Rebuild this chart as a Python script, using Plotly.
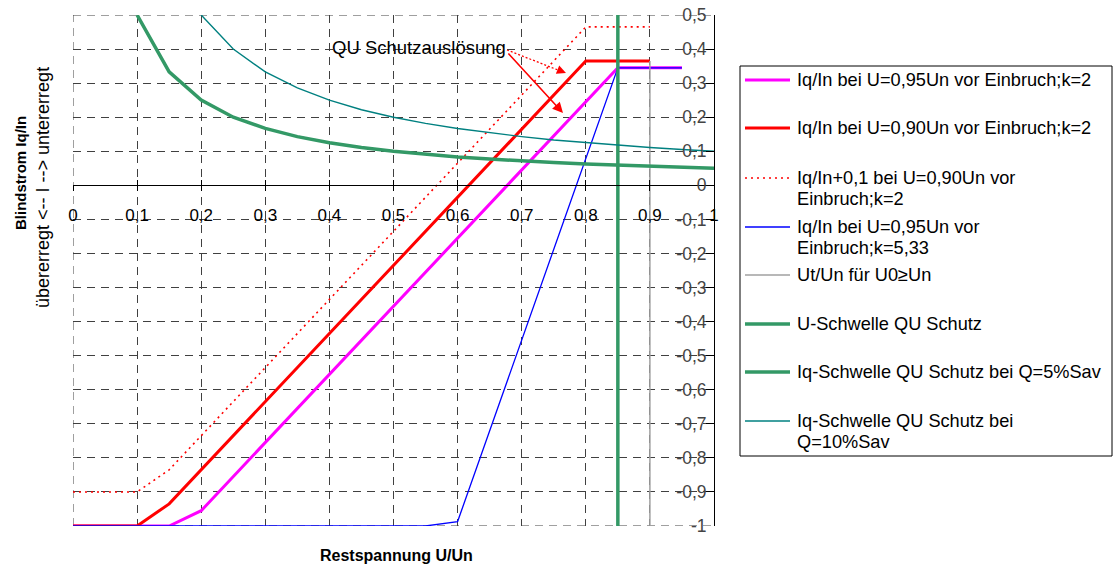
import plotly.graph_objects as go

# ---------------- data ----------------
u_095 = [0.00, 0.05, 0.10, 0.15, 0.20, 0.25, 0.30, 0.35, 0.40, 0.45, 0.50,
         0.55, 0.60, 0.65, 0.70, 0.75, 0.80, 0.85, 0.90, 0.95]
iq_095_k2 = [-1.0, -1.0, -1.0, -1.0, -0.955, -0.855, -0.755, -0.655, -0.555, -0.455,
             -0.355, -0.255, -0.155, -0.055, 0.045, 0.145, 0.245, 0.345, 0.345, 0.345]

u_090 = [0.00, 0.05, 0.10, 0.15, 0.20, 0.25, 0.30, 0.35, 0.40, 0.45, 0.50,
         0.55, 0.60, 0.65, 0.70, 0.75, 0.80, 0.85, 0.90]
iq_090_k2 = [-1.0, -1.0, -1.0, -0.935, -0.835, -0.735, -0.635, -0.535, -0.435, -0.335,
             -0.235, -0.135, -0.035, 0.065, 0.165, 0.265, 0.365, 0.365, 0.365]
iq_090_k2_plus = [-0.9, -0.9, -0.9, -0.835, -0.735, -0.635, -0.535, -0.435, -0.335, -0.235,
                  -0.135, -0.035, 0.065, 0.165, 0.265, 0.365, 0.465, 0.465, 0.465]

iq_095_k533 = [-1.0, -1.0, -1.0, -1.0, -1.0, -1.0, -1.0, -1.0, -1.0, -1.0, -1.0,
               -1.0, -0.987, -0.721, -0.455, -0.189, 0.078, 0.345, 0.345, 0.345]

ut_u = [0.9, 0.9]
ut_iq = [-1.0, 0.365]

uschw_u = [0.85, 0.85]
uschw_iq = [-1.0, 0.5]

u_q5 = [0.10, 0.15, 0.20, 0.25, 0.30, 0.35, 0.40, 0.45, 0.50, 0.55,
        0.60, 0.65, 0.70, 0.75, 0.80, 0.85, 0.90, 0.95, 1.00]
iq_q5 = [0.500, 0.333, 0.250, 0.200, 0.167, 0.143, 0.125, 0.111, 0.100, 0.091,
         0.083, 0.077, 0.071, 0.067, 0.0625, 0.059, 0.056, 0.053, 0.050]

u_q10 = [0.20, 0.25, 0.30, 0.35, 0.40, 0.45, 0.50, 0.55, 0.60, 0.65,
         0.70, 0.75, 0.80, 0.85, 0.90, 0.95, 1.00]
iq_q10 = [0.500, 0.400, 0.333, 0.286, 0.250, 0.222, 0.200, 0.182, 0.167, 0.154,
          0.143, 0.133, 0.125, 0.118, 0.111, 0.105, 0.100]

x_tickvals = [0, 0.1, 0.2, 0.3, 0.4, 0.5, 0.6, 0.7, 0.8, 0.9, 1.0]
x_ticktext = ["0", "0,1", "0,2", "0,3", "0,4", "0,5", "0,6", "0,7", "0,8", "0,9", "1"]
y_tickvals = [0.5, 0.4, 0.3, 0.2, 0.1, 0, -0.1, -0.2, -0.3, -0.4, -0.5,
              -0.6, -0.7, -0.8, -0.9, -1.0]
y_ticktext = ["0,5", "0,4", "0,3", "0,2", "0,1", "0", "-0,1", "-0,2", "-0,3", "-0,4", "-0,5",
              "-0,6", "-0,7", "-0,8", "-0,9", "-1"]

series_names = [
    "Iq/In bei U=0,95Un vor Einbruch;k=2",
    "Iq/In bei U=0,90Un vor Einbruch;k=2",
    "Iq/In+0,1 bei U=0,90Un vor|Einbruch;k=2",
    "Iq/In bei U=0,95Un vor|Einbruch;k=5,33",
    "Ut/Un für U0≥Un",
    "U-Schwelle QU Schutz",
    "Iq-Schwelle QU Schutz bei Q=5%Sav",
    "Iq-Schwelle QU Schutz bei|Q=10%Sav",
]

# ---------------- styles ----------------
FONT = "Liberation Sans, Arial, sans-serif"
MAGENTA = "#FF00FF"
RED = "#FF0000"
BLUE = "#0000FF"
GRAY = "#A0A0A0"
GREEN = "#339966"
TEAL = "#008080"

styles = [
    dict(color=MAGENTA, width=3),
    dict(color=RED, width=3),
    dict(color=RED, width=1.6, dash="2px,4px"),
    dict(color=BLUE, width=1.3),
    dict(color=GRAY, width=1.5),
    dict(color=GREEN, width=3.5),
    dict(color=GREEN, width=3.5),
    dict(color=TEAL, width=1.4),
]
data = [
    (u_095, iq_095_k2),
    (u_090, iq_090_k2),
    (u_090, iq_090_k2_plus),
    (u_095, iq_095_k533),
    (ut_u, ut_iq),
    (uschw_u, uschw_iq),
    (u_q5, iq_q5),
    (u_q10, iq_q10),
]

# The page body margin is removed via post_script, so the figure fills the window.
W, H = 1114, 568
L, R, T, B = 73, 714, 15, 526


def pxx(px):  # window pixel x -> paper x
    return (px - L) / (R - L)


def pxy(py):  # window pixel y -> paper y
    return (B - py) / (B - T)


fig = go.Figure()
for (xs, ys), st, nm in zip(data, styles, series_names):
    fig.add_trace(go.Scatter(x=xs, y=ys, mode="lines", line=st,
                             name=nm.replace("|", " "), cliponaxis=False,
                             hoverinfo="skip", showlegend=False))

# helper trace for the upper half of the crossing x ticks
fig.add_trace(go.Scatter(x=[0, 1], y=[-1, -1], xaxis="x2", mode="lines",
                         opacity=0, showlegend=False, hoverinfo="skip"))

GRIDC = "#404040"
GRIDDASH = "8px,6px"
grid = dict(showgrid=True, gridcolor=GRIDC, gridwidth=1, griddash=GRIDDASH)

fig.update_layout(
    template="none",
    width=W, height=H,
    margin=dict(l=L, r=W - R, t=T, b=H - B, pad=0, autoexpand=False),
    paper_bgcolor="white", plot_bgcolor="white",
    font=dict(family=FONT, color="black"),
    showlegend=False,
    xaxis=dict(range=[0, 1], tickvals=x_tickvals, ticktext=x_ticktext,
               zeroline=False, showline=True, linecolor="black", linewidth=1,
               anchor="free", position=2 / 3, automargin=False,
               ticks="outside", ticklen=5, tickcolor="black", tickwidth=1,
               tickfont=dict(size=17, family=FONT), ticklabelstandoff=9,
               ticklabeloverflow="allow", fixedrange=True, **grid),
    xaxis2=dict(range=[0, 1], tickvals=x_tickvals, overlaying="x",
                anchor="free", position=2 / 3, ticks="inside", ticklen=5,
                tickcolor="black", tickwidth=1, showticklabels=False, automargin=False,
                showgrid=False, showline=False, zeroline=False, fixedrange=True),
    yaxis=dict(range=[-1, 0.5], tickvals=y_tickvals, ticktext=y_ticktext,
               side="right", zeroline=False, showline=True, linecolor="black",
               linewidth=1, ticks="inside", ticklen=8, tickcolor="black",
               ticklabelposition="inside", ticklabeloverflow="allow",
               tickfont=dict(size=17.5, family=FONT), automargin=False,
               fixedrange=True, **grid),
)

shapes = []
annotations = []

# boundary grid lines (left, top, bottom) that plotly skips at range edges
gl = dict(color=GRIDC, width=1, dash=GRIDDASH)
shapes.append(dict(type="line", xref="x", yref="y", x0=0, x1=0, y0=-1, y1=0.5,
                   line=gl, layer="below"))
shapes.append(dict(type="line", xref="x", yref="y", x0=0, x1=1, y0=0.5, y1=0.5,
                   line=gl, layer="below"))
shapes.append(dict(type="line", xref="x", yref="y", x0=0, x1=1, y0=-1, y1=-1,
                   line=gl, layer="below"))

# legend box
shapes.append(dict(type="rect", xref="paper", yref="paper",
                   x0=pxx(740), x1=pxx(1112), y0=pxy(456), y1=pxy(66),
                   line=dict(color="black", width=1), fillcolor="white", layer="above"))

LEG_FONT = 18.2
legend_rows = [80, 128, 178, 227, 275, 324, 372, 421]
for nm, st, yrow in zip(series_names, styles, legend_rows):
    shapes.append(dict(type="line", xref="paper", yref="paper",
                       x0=pxx(745), x1=pxx(790), y0=pxy(yrow), y1=pxy(yrow),
                       line=st, layer="above"))
    for i, line_txt in enumerate(nm.split("|")):
        annotations.append(dict(text=line_txt, xref="paper", yref="paper",
                                x=pxx(795), y=pxy(yrow + 21 * i),
                                xanchor="left", yanchor="middle", showarrow=False,
                                font=dict(size=LEG_FONT, family=FONT, color="black")))

# axis titles
annotations.append(dict(text="<b>Restspannung U/Un</b>", xref="paper", yref="paper",
                        x=pxx(396), y=pxy(555), xanchor="center", yanchor="middle",
                        showarrow=False, font=dict(size=16, family=FONT)))
annotations.append(dict(text="<b>Blindstrom Iq/In</b>", xref="paper", yref="paper",
                        x=pxx(20), y=pxy(173), xanchor="center", yanchor="middle",
                        textangle=-90, showarrow=False, font=dict(size=15, family=FONT)))
annotations.append(dict(text="übererregt <-- I --> untererregt", xref="paper", yref="paper",
                        x=pxx(43), y=pxy(188), xanchor="center", yanchor="middle",
                        textangle=-90, showarrow=False, font=dict(size=18, family=FONT)))

# "QU Schutzauslösung" callout
annotations.append(dict(text="QU Schutzauslösung", xref="paper", yref="paper",
                        x=pxx(419), y=pxy(47), xanchor="center", yanchor="middle",
                        showarrow=False, font=dict(size=18.5, family=FONT)))
# solid arrow
annotations.append(dict(text="", x=pxx(563), y=pxy(113), xref="paper", yref="paper",
                        ax=507 - 563, ay=52 - 113, showarrow=True,
                        arrowhead=2, arrowsize=1.3, arrowwidth=1.6, arrowcolor=RED))
# dotted arrow: dotted shaft + head
shapes.append(dict(type="line", xref="paper", yref="paper",
                   x0=pxx(507), y0=pxy(50), x1=pxx(558), y1=pxy(70),
                   line=dict(color=RED, width=1.3, dash="2px,2px"), layer="above"))
annotations.append(dict(text="", x=pxx(566), y=pxy(73), xref="paper", yref="paper",
                        ax=-9, ay=-3.6, showarrow=True,
                        arrowhead=2, arrowsize=1.3, arrowwidth=1.4, arrowcolor=RED))

fig.update_layout(shapes=shapes, annotations=annotations)

fig.write_html(
    "out.html",
    config={"displayModeBar": False},
    post_script="document.body.style.margin='0';document.body.style.padding='0';"
                "document.body.style.overflow='hidden';",
)
